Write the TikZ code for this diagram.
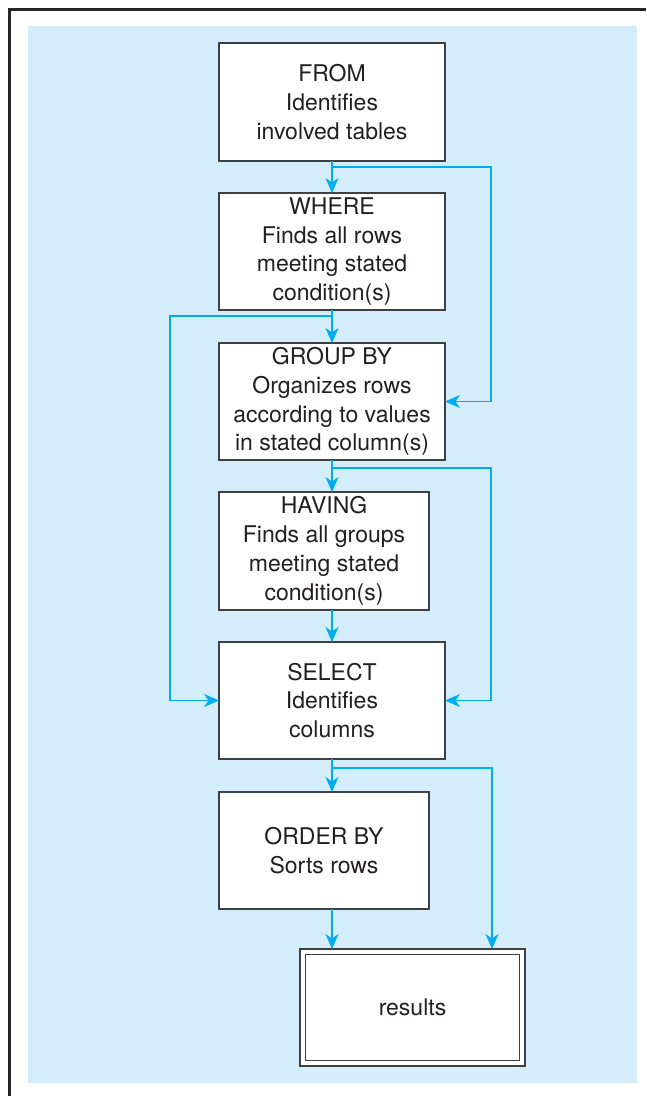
\documentclass[tikz,border=0pt]{standalone}
\usepackage{fontspec}
\setmainfont{TeX Gyre Heros}
\usetikzlibrary{arrows.meta,calc}
\definecolor{bgblue}{RGB}{211,237,250}
\definecolor{flow}{RGB}{0,174,239}
\definecolor{ink}{RGB}{35,31,32}
\definecolor{edge}{RGB}{64,64,66}
\tikzset{
  stepbox/.style={draw=edge, line width=1.4pt, fill=white, inner sep=0pt, outer sep=0pt,
    align=center, text=ink, font=\fontsize{23}{28.8}\selectfont, minimum height=117pt},
  arr/.style={draw=flow, line width=1.5pt, -{Stealth[length=15pt,width=13pt,inset=4.5pt]}},
}
\begin{document}
\begin{tikzpicture}[x=1pt,y=-1pt]
\useasboundingbox (0,0) rectangle (646,1096);
\fill[bgblue] (28,26) rectangle (637,1083);
\draw[line width=3pt, black!85, line cap=butt] (9,1096) -- (9,9) -- (646,9);

\node[stepbox, minimum width=226pt, minimum height=118pt] (from) at (332,102) {FROM\\Identifies\\involved tables};
\node[stepbox, minimum width=226pt] (where) at (332,251.5) {WHERE\\Finds all rows\\meeting stated\\condition(s)};
\node[stepbox, minimum width=226pt] (group) at (332,401.5) {GROUP BY\\Organizes rows\\according to values\\in stated column(s)};
\node[stepbox, minimum width=210pt, minimum height=118pt] (having) at (324,551) {HAVING\\Finds all groups\\meeting stated\\condition(s)};
\node[stepbox, minimum width=226pt] (select) at (332,700.5) {SELECT\\Identifies\\columns};
\node[stepbox, minimum width=210pt] (order) at (324,850.5) {ORDER BY\\Sorts rows};
\node[stepbox, minimum width=225pt] (res) at (412.5,1007.5) {results};
\draw[edge, line width=1.4pt] ($(res.north west)+(5.5,5.5)$) rectangle ($(res.south east)+(-5.5,-5.5)$);

\draw[arr] (from.south) -- (where.north);
\draw[arr] (from.south) -- ++(0,6) -| ([xshift=46pt]group.east) -- (group.east);
\draw[arr] (where.south) -- (group.north);
\draw[arr] (where.south) -- ++(0,6) -| ([xshift=-49pt]select.west) -- (select.west);
\draw[arr] (group.south) -- (group.south |- having.north);
\draw[arr] (group.south) -- ++(0,8) -| ([xshift=46pt]select.east) -- (select.east);
\draw[arr] (select.north |- having.south) -- (select.north);
\draw[arr] (select.south) -- (select.south |- order.north);
\draw[arr] (select.south) -- ++(0,9) -| ([xshift=79.5pt]res.north);
\draw[arr] (select.south |- order.south) -- (select.south |- res.north);
\end{tikzpicture}
\end{document}
